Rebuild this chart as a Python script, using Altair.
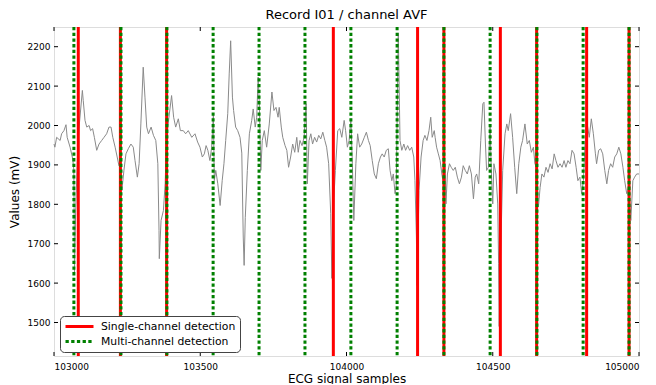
import altair as alt
import pandas as pd

BASE = 103000

# ECG trace (sample offset from 103000, value in mV)
sample_offset = [
    0, 3, 9, 21, 26, 34, 41, 45, 55, 64, 68, 70, 74, 79, 85, 97, 100, 106, 112, 120,
    125, 132, 138, 146, 154, 163, 171, 180, 188, 195, 201, 209, 216, 222, 228, 232, 239, 246, 254, 263,
    271, 277, 285, 291, 297, 305, 311, 317, 323, 332, 340, 348, 355, 359, 360, 366, 374, 380, 385, 393,
    402, 409, 416, 425, 432, 442, 450, 459, 471, 482, 491, 499, 507, 514, 520, 526, 533, 539, 545, 548,
    553, 560, 568, 575, 581, 587, 594, 599, 604, 610, 614, 621, 628, 636, 642, 647, 650, 654, 661, 668,
    676, 681, 688, 693, 698, 702, 707, 712, 719, 727, 736, 745, 752, 759, 766, 770, 777, 782, 790, 796,
    802, 809, 816, 823, 830, 835, 841, 848, 855, 862, 866, 872, 878, 884, 891, 898, 905, 912, 919, 926,
    932, 939, 946, 950, 957, 962, 970, 977, 984, 992, 997, 1003, 1009, 1015, 1020, 1025, 1032, 1038, 1045, 1052,
    1061, 1068, 1075, 1081, 1088, 1095, 1102, 1109, 1116, 1122, 1129, 1136, 1143, 1149, 1155, 1160, 1166, 1170, 1177, 1183,
    1189, 1196, 1202, 1209, 1216, 1223, 1230, 1234, 1239, 1241, 1248, 1255, 1262, 1268, 1275, 1282, 1288, 1293, 1300, 1303,
    1308, 1314, 1320, 1326, 1331, 1337, 1340, 1345, 1352, 1358, 1365, 1372, 1379, 1386, 1393, 1399, 1406, 1413, 1420, 1427,
    1434, 1440, 1445, 1452, 1459, 1466, 1470, 1475, 1479, 1485, 1491, 1495, 1500, 1504, 1511, 1517, 1520, 1522, 1527, 1534,
    1542, 1548, 1553, 1561, 1568, 1575, 1582, 1589, 1596, 1602, 1610, 1618, 1625, 1632, 1639, 1644, 1650, 1656, 1662, 1668,
    1675, 1682, 1689, 1696, 1703, 1710, 1716, 1723, 1730, 1737, 1744, 1750, 1757, 1764, 1771, 1778, 1785, 1791, 1798, 1804,
    1810, 1815, 1821, 1830, 1837, 1844, 1851, 1855, 1862, 1869, 1876, 1883, 1890, 1896, 1903, 1910, 1917, 1924, 1931, 1938,
    1945, 1951, 1958, 1965, 1972, 1979, 1985, 1992, 2000,
]
mv = [
    1953, 1945, 1970, 1962, 1979, 1987, 2002, 1970, 1945, 1915, 1886, 1625, 1780, 1900, 1990, 2089, 2063, 2013, 1996, 2000,
    1987, 1992, 1970, 1937, 1953, 1962, 1970, 1979, 1996, 1996, 1970, 1945, 1920, 1898, 1903, 1835, 1886, 1928, 1941, 1953,
    1945, 1911, 1869, 1903, 2004, 2148, 2072, 1996, 1979, 1996, 1975, 1962, 1903, 1734, 1662, 1759, 1784, 1852, 1970, 2021,
    2076, 2021, 1996, 2017, 1987, 1987, 1979, 1987, 1970, 1979, 1958, 1945, 1920, 1928, 1949, 1937, 1911, 1945, 2030, 1860,
    1886, 1852, 1797, 1860, 1903, 1962, 2030, 2131, 2215, 2072, 2038, 1996, 1987, 1970, 1930, 1717, 1645, 1767, 1886, 1979,
    2013, 2042, 1996, 2021, 2123, 2055, 1886, 1962, 1987, 1945, 2004, 2085, 2038, 2046, 2021, 2046, 1996, 1970, 1949, 1937,
    1894, 1920, 1953, 1932, 1970, 1932, 1962, 1949, 1970, 2055, 1852, 1962, 1979, 1953, 1970, 1958, 1975, 1966, 1983, 1962,
    1945, 1903, 1776, 1612, 1818, 1886, 1987, 1992, 1970, 2013, 1987, 1945, 1962, 2017, 1903, 1759, 1903, 1979, 1945, 1953,
    1970, 1983, 1962, 1949, 1911, 1877, 1865, 1903, 1920, 1928, 1920, 1937, 1941, 1886, 1860, 1877, 1827, 1843, 2235, 1962,
    1937, 1953, 1937, 1949, 1937, 1945, 1920, 1860, 1717, 1594, 1835, 1920, 1962, 1975, 1962, 1987, 2021, 1970, 1987, 1970,
    1945, 1928, 1911, 1877, 1852, 1903, 1801, 1877, 1903, 1894, 1886, 1894, 1869, 1852, 1869, 1898, 1886, 1877, 1898, 1877,
    1814, 1869, 1877, 1852, 1962, 2055, 2059, 1953, 1886, 1894, 1996, 1886, 1801, 1903, 1877, 1801, 1649, 1490, 1674, 1886,
    1979, 2004, 1987, 2030, 1970, 1894, 1827, 1903, 1945, 1962, 2004, 1953, 1962, 1932, 1945, 1903, 1894, 1793, 1843, 1877,
    1869, 1894, 1881, 1903, 1890, 1928, 1911, 1894, 1903, 1894, 1911, 1894, 1911, 1903, 1937, 1928, 1894, 1860, 1869, 1827,
    1860, 1945, 2013, 1970, 2017, 1979, 1928, 1903, 1937, 1941, 1928, 1886, 1852, 1886, 1903, 1894, 1920, 1928, 1945, 1928,
    1894, 1860, 1827, 1843, 1759, 1860, 1869, 1877, 1877,
]

# detections (sample index)
single_channel = [103083, 103227, 103385, 103955, 104243, 104333, 104526, 104650, 104821, 104966]
multi_channel = [103068, 103229, 103386, 103544, 103701, 103858, 104015, 104173, 104333, 104491, 104651, 104809, 104966]

x_ticks = [103000, 103500, 104000, 104500, 105000]
y_ticks = [1500, 1600, 1700, 1800, 1900, 2000, 2100, 2200]

LABEL_SINGLE = "Single-channel detection"
LABEL_MULTI = "Multi-channel detection"

FONT = "DejaVu Sans"
X_DOMAIN = [103000, 105000]
Y_DOMAIN = [1415, 2250]

sig = pd.DataFrame({"sample": [BASE + o for o in sample_offset], "value": mv})
det = pd.DataFrame({
    "sample": single_channel + multi_channel,
    "kind": [LABEL_SINGLE] * len(single_channel) + [LABEL_MULTI] * len(multi_channel),
})
xt = pd.DataFrame({"t": x_ticks})
yt = pd.DataFrame({"t": y_ticks})

xscale = alt.Scale(domain=X_DOMAIN, nice=False, zero=False)
yscale = alt.Scale(domain=Y_DOMAIN, nice=False, zero=False)

W, H = 585, 329

line = alt.Chart(sig).mark_line(color="#8a8a8a", strokeWidth=1).encode(
    x=alt.X("sample:Q", scale=xscale,
            axis=alt.Axis(values=x_ticks, format="d", title="ECG signal samples",
                          labelFontSize=9, labelPadding=6, ticks=False, domain=False, grid=False,
                          titleFontSize=12, titlePadding=2, labelFont=FONT, titleFont=FONT,
                          titleFontWeight="normal", labelColor="#000", titleColor="#000")),
    y=alt.Y("value:Q", scale=yscale,
            axis=alt.Axis(values=y_ticks, format="d", title="Values (mV)",
                          labelFontSize=9, labelPadding=4, ticks=False, domain=False, grid=False,
                          titleFontSize=12, titlePadding=6, labelFont=FONT, titleFont=FONT,
                          titleFontWeight="normal", labelColor="#000", titleColor="#000")),
)

rules = alt.Chart(det).mark_rule(strokeWidth=3, strokeCap="butt").encode(
    x=alt.X("sample:Q", scale=xscale),
    color=alt.Color("kind:N",
                    scale=alt.Scale(domain=[LABEL_SINGLE, LABEL_MULTI], range=["#ff0000", "#008000"]),
                    legend=alt.Legend(title=None, orient="none", legendX=6, legendY=289,
                                      symbolType="stroke", symbolSize=784, symbolStrokeWidth=3,
                                      clipHeight=13,
                                      labelFontSize=10.8, labelFont=FONT, labelColor="#000",
                                      fillColor="white", strokeColor="#444", cornerRadius=4,
                                      padding=4, rowPadding=2, labelOffset=6)),
    strokeDash=alt.StrokeDash("kind:N",
                              scale=alt.Scale(domain=[LABEL_SINGLE, LABEL_MULTI], range=[[1, 0], [3.3, 2.4]]),
                              legend=None),
    order=alt.Order("kind:N", sort="descending"),
)

tick_left = alt.Chart(yt).mark_rule(color="black", strokeWidth=1).encode(
    y=alt.Y("t:Q", scale=yscale), x=alt.value(0), x2=alt.value(4))
tick_right = alt.Chart(yt).mark_rule(color="black", strokeWidth=1).encode(
    y=alt.Y("t:Q", scale=yscale), x=alt.value(W - 4), x2=alt.value(W))
tick_bottom = alt.Chart(xt).mark_rule(color="black", strokeWidth=1).encode(
    x=alt.X("t:Q", scale=xscale), y=alt.value(H - 4), y2=alt.value(H))
tick_top = alt.Chart(xt).mark_rule(color="black", strokeWidth=1).encode(
    x=alt.X("t:Q", scale=xscale), y=alt.value(0), y2=alt.value(4))

chart = alt.layer(line, rules, tick_left, tick_right, tick_bottom, tick_top).properties(
    width=W, height=H,
    title=alt.TitleParams("Record I01 / channel AVF", fontSize=13, font=FONT, fontWeight="normal",
                          color="#000", offset=4),
    autosize=alt.AutoSizeParams(type="none"),
    padding={"left": 46, "top": 19, "right": 9, "bottom": 28},
).configure_view(stroke="black", strokeWidth=1).configure(background="white")

chart.save("out.html", embed_options={"renderer": "svg", "actions": False})
